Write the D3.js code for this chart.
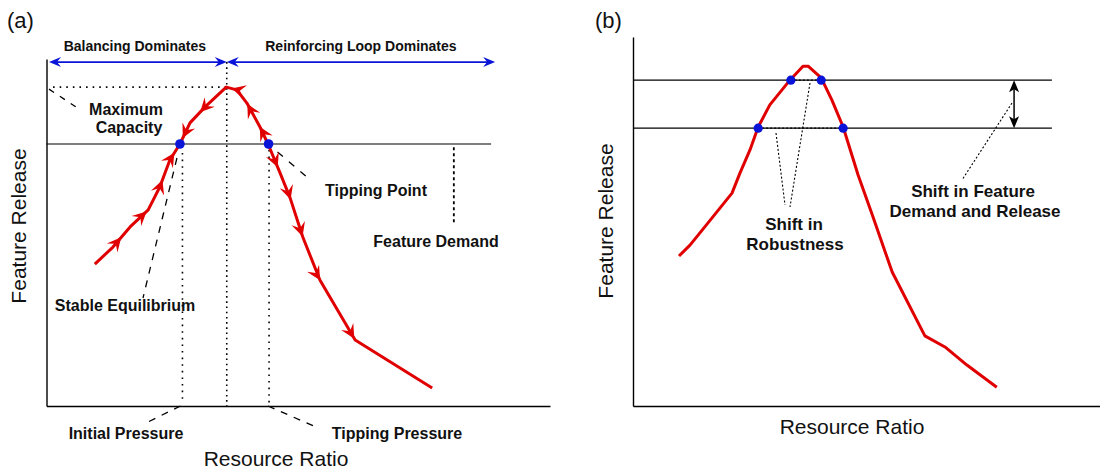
<!DOCTYPE html>
<html>
<head>
<meta charset="utf-8">
<script src="https://cdn.jsdelivr.net/npm/d3@7"></script>
<style>
  body { margin: 0; background: #fff; }
  svg text { font-family: "Liberation Sans", Arial, Helvetica, sans-serif; fill: #111; }
  .lbl { font-weight: bold; font-size: 16px; }
  .lbl-b { font-weight: bold; font-size: 17px; }
  .title { font-size: 21px; }
  .panel { font-size: 22px; }
</style>
</head>
<body>
<svg width="1100" height="471"></svg>
<script>
/* ---
DATA (resource ratio / feature release, both in 0-100 units)
--- */
// panel (a): feature release curve
var ratioA   = [9.6, 13.2, 16.6, 20.2, 22.5, 24.5, 26.5, 28.5, 31.5, 35.7, 37.8, 39.8, 42.4, 44.0, 46.4, 48.4, 50.9, 54.3, 61.3, 76.6];
var releaseA = [40.9, 45.8, 51.6, 56.5, 63.1, 70.9, 75.5, 81.6, 86.2, 91.9, 91.1, 87.3, 80.4, 75.5, 67.1, 59.9, 48.7, 36.3, 19.0, 5.2];

// flow arrows along the curve (+1 = with the curve, -1 = against it)
var arrowRatioA   = [15.0, 20.0, 23.1, 25.5, 30.5, 27.1, 36.8, 39.8, 43.0, 45.6, 47.6, 50.5, 54.1, 60.3];
var arrowReleaseA = [48.4, 55.9, 65.1, 72.9, 84.7, 77.2, 91.6, 87.0, 81.0, 68.6, 59.1, 48.7, 36.0, 18.7];
var arrowDirA     = [1, 1, 1, 1, -1, -1, -1, -1, -1, 1, 1, 1, 1, 1];

var demandA = 75.5;          // feature demand level
var maxCapacityA = 91.9;
var peakRatioA = 35.8;
var initialPressureA = 27.0;
var tippingPressureA = 44.2;
var equilibriaA = [26.5, 44.1]; // stable equilibrium, tipping point
var demandMarkA = [80.9, 52.2, 74.6]; // ratio, from, to

var regionNames = ['Balancing Dominates', 'Reinforcing Loop Dominates'];
var regionBounds = [0.5, 35.8, 89.1];

// panel (b)
var ratioB   = [9.85, 12.2, 15.85, 21.2, 22.9, 25.05, 26.8, 29.3, 33.6, 36.4, 37.5, 40.3, 42.6, 45.0, 48.2, 51.4, 55.5, 62.5, 66.8, 71.5, 77.9];
var releaseB = [40.65, 43.6, 49.3, 57.7, 63.1, 69.4, 75.6, 81.6, 88.3, 92.1, 92.1, 88.9, 82.9, 75.6, 62.6, 51.2, 36.3, 19.0, 16.0, 11.1, 5.1];
var levelsB = [75.3, 88.3];
var equilibriaB = [[26.8, 45.0], [33.8, 40.3]];
var levelEndB = 89.7;
var shiftMarkB = 81.6;


var svg = d3.select('svg');

var xA = d3.scaleLinear().domain([0, 100]).range([46.5, 550]);
var yA = d3.scaleLinear().domain([0, 100]).range([406, 59]);
var xB = d3.scaleLinear().domain([0, 100]).range([633, 1100]);
var yB = d3.scaleLinear().domain([0, 100]).range([406, 37]);

var RED = '#e00000', BLUE = '#0a14d8';


/* ---
HELPERS
--- */
function arrowHead(g, x, y, angle, len, half, notch, color) {
  g.append('path')
    .attr('d', 'M0,0L' + (-len) + ',' + (-half) + 'L' + (-notch) + ',0L' + (-len) + ',' + half + 'Z')
    .attr('fill', color)
    .attr('transform', 'translate(' + x + ',' + y + ') rotate(' + angle + ')');
}

function seg(g, x1, y1, x2, y2, dash, w) {
  return g.append('line')
    .attr('x1', x1).attr('y1', y1).attr('x2', x2).attr('y2', y2)
    .attr('stroke', '#000')
    .attr('stroke-width', w || 1.2)
    .attr('stroke-dasharray', dash || null);
}

function label(g, cls, x, y, txt, anchor) {
  return g.append('text')
    .attr('class', cls)
    .attr('x', x).attr('y', y)
    .attr('text-anchor', anchor || 'middle')
    .text(txt);
}

function drawAxes(g, x, y) {
  g.append('g')
    .attr('transform', 'translate(0,' + y.range()[0] + ')')
    .call(d3.axisBottom(x).tickValues([]).tickSizeOuter(0))
    .select('.domain').attr('stroke-width', 1.4);
  g.append('g')
    .attr('transform', 'translate(' + x.range()[0] + ',0)')
    .call(d3.axisLeft(y).tickValues([]).tickSizeOuter(0))
    .select('.domain').attr('stroke-width', 1.4);
}

// put arrow on nearest curve segment, pointing along it
function snap(pts, px, py) {
  var best = null;
  for (var i = 0; i < pts.length - 1; i++) {
    var ax = pts[i][0], ay = pts[i][1], bx = pts[i + 1][0], by = pts[i + 1][1];
    var dx = bx - ax, dy = by - ay;
    var t = ((px - ax) * dx + (py - ay) * dy) / (dx * dx + dy * dy);
    t = Math.max(0, Math.min(1, t));
    var qx = ax + t * dx, qy = ay + t * dy;
    var d = (px - qx) * (px - qx) + (py - qy) * (py - qy);
    if (best === null || d < best.d) best = {d: d, x: qx, y: qy, a: Math.atan2(dy, dx) * 180 / Math.PI};
  }
  return best;
}


/* ---
PANEL (a)
--- */
var ga = svg.append('g');
drawAxes(ga, xA, yA);

label(ga, 'panel', 7, 28, '(a)', 'start');

// region arrows
var rg = ga.append('g');
for (var r = 0; r < regionNames.length; r++) {
  var x0 = xA(regionBounds[r]), x1 = xA(regionBounds[r + 1]), yy = yA(99.1);
  rg.append('line').attr('x1', x0 + 4).attr('x2', x1 - 4).attr('y1', yy).attr('y2', yy)
    .attr('stroke', BLUE).attr('stroke-width', 1.6);
  arrowHead(rg, x0, yy, 180, 12, 5, 8, BLUE);
  arrowHead(rg, x1, yy, 0, 12, 5, 8, BLUE);
  rg.append('text')
    .attr('x', (x0 + x1) / 2 + (r === 0 ? -3 : 0))
    .attr('y', 51)
    .attr('text-anchor', 'middle')
    .style('font-weight', 'bold').style('font-size', '14px')
    .text(regionNames[r]);
}

// reference lines
seg(ga, xA(0), yA(demandA), xA(88.3), yA(demandA), null, 1.2);
seg(ga, xA(1.3), yA(maxCapacityA), xA(peakRatioA), yA(maxCapacityA), '1.6,5', 1.6);
seg(ga, xA(peakRatioA), yA(99.1), xA(peakRatioA), yA(0), '1.6,3.6', 1.6);
seg(ga, xA(initialPressureA), yA(demandA) + 9, xA(initialPressureA), yA(1.8), '1.6,5', 1.6);
seg(ga, xA(tippingPressureA), yA(demandA) + 6, xA(tippingPressureA), yA(0), '1.6,5', 1.6);
seg(ga, xA(demandMarkA[0]), yA(demandMarkA[2]), xA(demandMarkA[0]), yA(demandMarkA[1]), '3,3', 1.8);

// leaders
seg(ga, xA(0.5), yA(maxCapacityA) + 2, 76, 107, '6,7', 1.3);
seg(ga, xA(equilibriaA[1]) + 9, yA(demandA) + 8, 308, 178, '7,8', 1.3);
seg(ga, xA(equilibriaA[0]) - 3, yA(demandA) + 14, 143, 298, '7,7', 1.3);
seg(ga, xA(initialPressureA) - 2, yA(0), 148, 422, '7,7', 1.3);
seg(ga, xA(tippingPressureA) - 1, yA(0), 316, 427, '7,7', 1.3);

// curve
var ptsA = ratioA.map(function(d, i) { return [xA(d), yA(releaseA[i])]; });
ga.append('path')
  .attr('d', d3.line()(ptsA))
  .attr('fill', 'none')
  .attr('stroke', RED)
  .attr('stroke-width', 3)
  .attr('stroke-linejoin', 'round');

arrowRatioA.forEach(function(d, i) {
  var s = snap(ptsA, xA(d), yA(arrowReleaseA[i]));
  arrowHead(ga, s.x, s.y, s.a + (arrowDirA[i] < 0 ? 180 : 0), 14, 7, 8.5, RED);
});

ga.selectAll('circle.eq')
  .data(equilibriaA)
  .enter()
  .append('circle')
  .attr('class', 'eq')
  .attr('cx', function(d) { return xA(d); })
  .attr('cy', yA(demandA))
  .attr('r', 4.8)
  .attr('fill', BLUE);

// labels
label(ga, 'lbl', 126, 115, 'Maximum');
label(ga, 'lbl', 129, 133, 'Capacity');
label(ga, 'lbl', 376, 196, 'Tipping Point');
label(ga, 'lbl', 436, 247, 'Feature Demand');
label(ga, 'lbl', 125, 311, 'Stable Equilibrium');
label(ga, 'lbl', 126, 439, 'Initial Pressure');
label(ga, 'lbl', 397, 439, 'Tipping Pressure');
label(ga, 'title', 276, 466, 'Resource Ratio');
label(ga, 'title', 0, 0, 'Feature Release')
  .attr('transform', 'translate(26,226) rotate(-90)');


/* ---
PANEL (b)
--- */
var gb = svg.append('g');
drawAxes(gb, xB, yB);

label(gb, 'panel', 595, 28, '(b)', 'start');

levelsB.forEach(function(l) {
  seg(gb, xB(0), yB(l), xB(levelEndB), yB(l), null, 1.2);
});
equilibriaB.forEach(function(pair, i) {
  seg(gb, xB(pair[0]), yB(levelsB[i]), xB(pair[1]), yB(levelsB[i]), '2,2', 1.1);
});

// shift arrow
seg(gb, xB(shiftMarkB), yB(levelsB[1]) + 6, xB(shiftMarkB), yB(levelsB[0]) - 6, null, 1.5);
arrowHead(gb, xB(shiftMarkB), yB(levelsB[1]), -90, 12, 5, 9, '#000');
arrowHead(gb, xB(shiftMarkB), yB(levelsB[0]), 90, 12, 5, 9, '#000');

// leaders
seg(gb, 776, 133, 785, 205, '2,2', 1.1);
seg(gb, 810, 83, 790, 207, '2,2', 1.1);
seg(gb, 1012, 103, 962, 180, '2,2', 1.1);

var ptsB = ratioB.map(function(d, i) { return [xB(d), yB(releaseB[i])]; });
gb.append('path')
  .attr('d', d3.line()(ptsB))
  .attr('fill', 'none')
  .attr('stroke', RED)
  .attr('stroke-width', 3)
  .attr('stroke-linejoin', 'round');

equilibriaB.forEach(function(pair, i) {
  pair.forEach(function(d) {
    gb.append('circle')
      .attr('cx', xB(d)).attr('cy', yB(levelsB[i]))
      .attr('r', 4.6)
      .attr('fill', BLUE);
  });
});

label(gb, 'lbl-b', 794, 230, 'Shift in');
label(gb, 'lbl-b', 795, 250, 'Robustness');
label(gb, 'lbl-b', 973, 197, 'Shift in Feature');
label(gb, 'lbl-b', 975, 217, 'Demand and Release');
label(gb, 'title', 852, 434, 'Resource Ratio');
label(gb, 'title', 0, 0, 'Feature Release')
  .attr('transform', 'translate(613,221) rotate(-90)');
</script>
</body>
</html>
